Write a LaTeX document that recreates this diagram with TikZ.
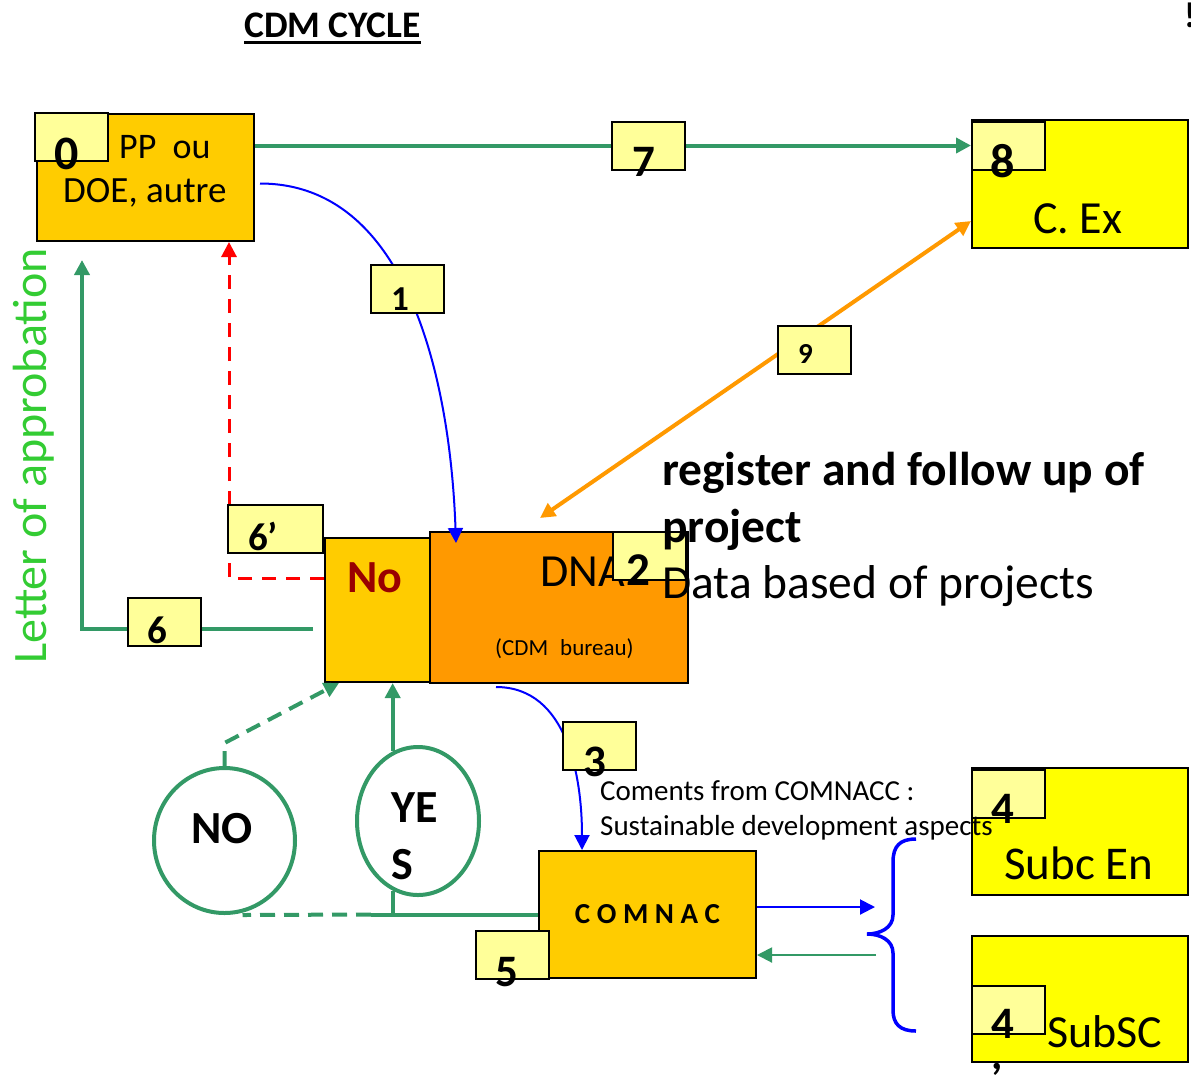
\documentclass[tikz,border=0pt]{standalone}
\usepackage{fontspec}
\setmainfont{Carlito}
\usetikzlibrary{arrows.meta,shapes.geometric}
\definecolor{boxgold}{HTML}{FFCC00}
\definecolor{dnaorange}{HTML}{FF9900}
\definecolor{paleyellow}{HTML}{FFFF99}
\definecolor{brightyellow}{HTML}{FFFF00}
\definecolor{flowgreen}{HTML}{339966}
\definecolor{lettergreen}{HTML}{33CC33}
\definecolor{nored}{HTML}{990000}

\begin{document}
\begin{tikzpicture}[x=1pt,y=-1pt,>={Triangle[length=15pt,width=15pt]},
  mainbox/.style={draw,line width=2pt,anchor=north west,inner sep=0pt},
  numbox/.style={draw,fill=paleyellow,line width=2pt,anchor=north west,inner sep=0pt,
    minimum width=73pt,minimum height=48pt},
  digit/.style={font=\bfseries\fontsize{44}{44}\selectfont,anchor=base,inner sep=0pt},
  txt/.style={anchor=base west,inner sep=0pt},
  greenline/.style={draw=flowgreen,line width=4pt},
  greendash/.style={greenline,dash pattern=on 15pt off 9pt},
  greenthin/.style={draw=flowgreen,line width=2pt},
  blueline/.style={draw=blue,line width=2pt},
  orangeline/.style={draw=dnaorange,line width=4pt},
  redline/.style={draw=red,line width=3pt,dash pattern=on 14pt off 10pt},
  ring/.style={ellipse,draw=flowgreen,line width=4pt,inner sep=0pt}]
\useasboundingbox (0,0) rectangle (1191,1080);
% ---- title ----
\node[txt,font=\bfseries\fontsize{37.5}{37.5}\selectfont] (title) at (244,37) {CDM CYCLE};
\draw[line width=3pt] ([yshift=-5pt]title.base west) -- ([yshift=-5pt]title.base east);
\node[txt,font=\bfseries\fontsize{36}{36}\selectfont] (mark) at (1184,27) {!};
% ---- main boxes ----
\node[mainbox,fill=boxgold,minimum width=217pt,minimum height=127pt] (pp) at (36,113) {};
\node[mainbox,fill=brightyellow,minimum width=216pt,minimum height=128pt] (cex) at (971,119) {};
\node[mainbox,fill=boxgold,minimum width=105pt,minimum height=144pt] (nobox) at (324,537) {};
\node[mainbox,fill=dnaorange,minimum width=258pt,minimum height=151pt] (dna) at (429,531) {};
\node[mainbox,fill=boxgold,minimum width=217pt,minimum height=127pt] (comnac) at (538,850) {};
\node[mainbox,fill=brightyellow,minimum width=216pt,minimum height=127pt] (subcen) at (971,767) {};
\node[mainbox,fill=brightyellow,minimum width=216pt,minimum height=126pt] (subsc) at (971,935) {};
\node[ring,minimum width=141pt,minimum height=145pt] (noell) at (224.5,840.5) {};
\node[ring,minimum width=122pt,minimum height=148pt] (yesell) at (418,821) {};
% ---- connectors ----
\coordinate (ppout) at ([yshift=32pt]pp.east);
\draw[greenline,->] (ppout) -- (ppout -| cex.west);
\draw[blueline,->] ([shift={(5pt,-6pt)}]pp.east) to[out=0,in=92,looseness=0.95]
  ([shift={(27pt,-12pt)}]dna.north west);
\draw[orangeline,<->] ([shift={(-19pt,13pt)}]dna.north) -- ([yshift=-37pt]cex.west);
\draw[redline,->] ([yshift=32pt]nobox.west) -| ([xshift=-26pt]pp.south east);
\draw[greenline,->] ([shift={(-11pt,-19pt)}]nobox.west) -| ([shift={(46pt,-18pt)}]pp.south west);
\draw[greenline,->] (yesell.110) -- (yesell.110 |- nobox.south);
\draw[greendash,->] (noell.north) -- ++(0,-23) -- ([xshift=15pt]nobox.south west);
\draw[greenline] (comnac.west) -- ++(-167,0) coordinate (joint);
\draw[greenline] (yesell.250) -- (yesell.250 |- joint);
\draw[greendash] (joint) -- ([xshift=18pt]noell.south);
\draw[blueline,->] ([shift={(-63pt,-3pt)}]dna.south) to[out=0,in=90]
  ([xshift=44pt]comnac.north west);
\coordinate (bracein) at (875,907);
\coordinate (braceout) at (876,955);
\draw[blueline,->] (comnac.east |- bracein) -- (bracein);
\draw[greenthin,->] (braceout) -- (comnac.east |- braceout);
% brace
\draw[blue,line width=3.5pt] (916,839) .. controls (900,839) and (893,846) .. (893,862)
  -- (893,915) .. controls (893,928) and (880,934) .. (867,934)
  .. controls (880,934) and (893,940) .. (893,953)
  -- (893,1010) .. controls (893,1024) and (900,1031) .. (916,1031);
% ---- texts in boxes ----
\node[txt,font=\fontsize{36}{36}\selectfont] (pptext) at (119,158) {PP\ \ ou};
\node[txt,font=\fontsize{37}{37}\selectfont] (doetext) at (63,202) {DOE, autre};
\node[txt,font=\fontsize{46}{46}\selectfont] (cextext) at (1033,233) {C. Ex};
\node[txt,font=\bfseries\fontsize{46}{46}\selectfont,text=nored] (notext) at (347,592) {No};
\node[txt,font=\fontsize{46}{46}\selectfont] (dnatext) at (540,586) {DNA};
\node[txt,font=\fontsize{23}{23}\selectfont] (bureautext) at (495,655) {(CDM\hspace{12pt}bureau)};
\node[digit,font=\bfseries\fontsize{29}{29}\selectfont] (comnactext) at (647.5,923) {C O M N A C};
\node[txt,font=\fontsize{47}{47}\selectfont] (subcentext) at (1004,879) {Subc En};
\node[txt,font=\fontsize{46}{46}\selectfont] (subsctext) at (1047,1047) {SubSC};
\node[txt,font=\bfseries\fontsize{46}{46}\selectfont] (notxt) at (191,843) {NO};
\node[txt,font=\bfseries\fontsize{46}{46}\selectfont] (yestxt) at (391,822) {YE};
\node[txt,font=\bfseries\fontsize{46}{46}\selectfont] (stxt) at (391,879) {S};
% ---- number boxes ----
\node[numbox] (n0) at (34,112) {};
\node[numbox] (n7) at (611,121) {};
\node[numbox] (n8) at (971,121) {};
\node[numbox] (n1) at (370,264) {};
\node[numbox] (n9) at (777,325) {};
\node[numbox,minimum width=95pt] (n6p) at (227,504) {};
\node[numbox] (n6) at (127,597) {};
\node[numbox] (n2) at (612,531) {};
\node[numbox] (n3) at (562,721) {};
\node[numbox] (n5) at (475,930) {};
\node[numbox] (n4a) at (971,769) {};
\node[numbox] (n4b) at (971,985) {};
\node[digit,font=\bfseries\fontsize{48}{48}\selectfont] (d0) at (66.5,169) {0};
\node[digit,font=\bfseries\fontsize{45}{45}\selectfont] (d7) at (644,176) {7};
\node[digit,font=\bfseries\fontsize{48}{48}\selectfont] (d8) at (1003,177) {8};
\node[digit,font=\bfseries\fontsize{35}{35}\selectfont] (d1) at (400,310) {1};
\node[digit,font=\bfseries\fontsize{29}{29}\selectfont] (d9) at (805.5,363) {9};
\node[txt,font=\bfseries\fontsize{39}{39}\selectfont] (d6p) at (248,550) {6’};
\node[digit,font=\bfseries\fontsize{39}{39}\selectfont] (d6) at (157,643) {6};
\node[digit,font=\bfseries\fontsize{47}{47}\selectfont] (d2) at (638,585) {2};
\node[digit,font=\bfseries\fontsize{45}{45}\selectfont] (d3) at (595,776) {3};
\node[digit,font=\bfseries\fontsize{45}{45}\selectfont] (d5) at (507,986) {5};
\node[digit,font=\bfseries\fontsize{45}{45}\selectfont] (d4a) at (1003,823) {4};
\node[digit,font=\bfseries\fontsize{45}{45}\selectfont] (d4b) at (1003,1038) {4};
\node[digit] (comma) at (997,1069) {,};
% ---- free texts ----
\node[txt,font=\bfseries\fontsize{47.5}{47.5}\selectfont] (reg1) at (662,485) {register and follow up of};
\node[txt,font=\bfseries\fontsize{47.5}{47.5}\selectfont] (reg2) at (662,542) {project};
\node[txt,font=\fontsize{47.5}{47.5}\selectfont] (reg3) at (662,598) {Data based of projects};
\node[txt,font=\fontsize{29}{29}\selectfont] (com1) at (600,800) {Coments from COMNACC :};
\node[txt,font=\fontsize{29}{29}\selectfont] (com2) at (600,835) {Sustainable development aspects};
\node[txt,rotate=90,font=\fontsize{48}{48}\selectfont,text=lettergreen] (letter) at (46,664)
  {Letter of approbation};
\end{tikzpicture}
\end{document}
